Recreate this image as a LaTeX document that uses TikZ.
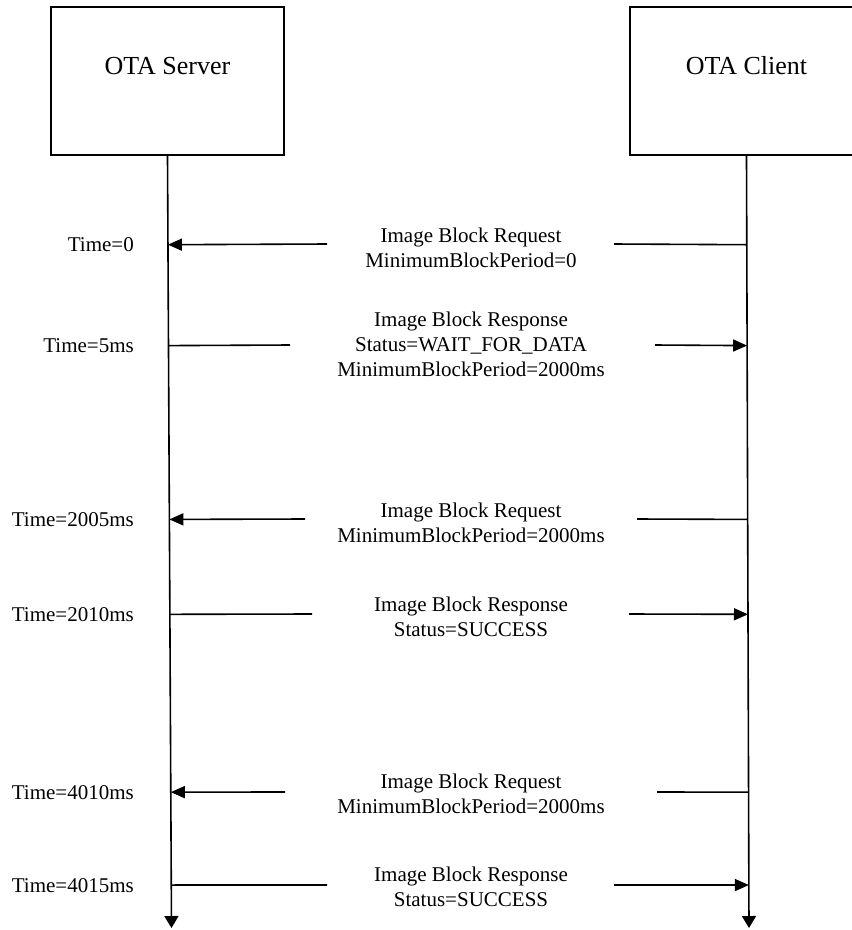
\documentclass[tikz,border=0pt]{standalone}
\usepackage{fontspec}
\setmainfont{Liberation Serif}
\usetikzlibrary{arrows.meta,calc}

\begin{document}
\begin{tikzpicture}[x=1pt,y=-1pt,
	>={Triangle[length=14pt,width=12pt]},
	party/.style={draw, line width=1.6pt, minimum width=233pt, minimum height=148pt,
		inner sep=0pt, text height=20pt, text depth=34pt, font=\fontsize{26}{31}\selectfont},
	life/.style={line width=1.6pt, -{Triangle[length=12pt,width=14pt]}},
	msg/.style={line width=1.6pt},
	lbl/.style={align=center, anchor=base, inner sep=0pt, font=\fontsize{21}{25}\selectfont},
	when/.style={anchor=base east, inner sep=0pt, font=\fontsize{21}{25}\selectfont}]

\useasboundingbox (0,0) rectangle (852,930);

% Participants
\node[party] (sv) at (167.5,81) {OTA Server};
\node[party] (cl) at (746.5,81) {OTA Client};

\coordinate (svEnd) at (171.5,928);
\coordinate (clEnd) at (749,928);
\draw[life] (sv.south) -- (svEnd);
\draw[life] (cl.south) -- (clEnd);

% Requests (client -> server)
\foreach \y/\a/\b/\when/\ly/\txt [count=\i] in {
	244/327/614/Time=0/267/{Image Block Request\\MinimumBlockPeriod=0},
	519/305/637/Time=2005ms/542/{Image Block Request\\MinimumBlockPeriod=2000ms},
	792/285/657/Time=4010ms/813/{Image Block Request\\MinimumBlockPeriod=2000ms}}
{
	\pgfmathsetmacro\pos{(\y-155)/773}
	\coordinate (rqs\i) at ($(sv.south)!\pos!(svEnd)$);
	\coordinate (rqc\i) at ($(cl.south)!\pos!(clEnd)$);
	\coordinate (rqa\i) at (\a,\y);
	\coordinate (rqb\i) at (\b,\y);
	\draw[msg,->] (rqa\i) -- (rqs\i);
	\draw[msg] (rqc\i) -- (rqb\i);
	\node[lbl] (rql\i) at (471,\ly) {\txt};
	\node[when] (rqt\i) at (134,\y+7) {\when};
}

% Responses (server -> client)
\foreach \y/\a/\b/\when/\ly/\txt [count=\i] in {
	345/290/655/Time=5ms/376/{Image Block Response\\Status=WAIT\_FOR\_DATA\\MinimumBlockPeriod=2000ms},
	614/312/629/Time=2010ms/636/{Image Block Response\\Status=SUCCESS},
	885/327/614/Time=4015ms/906/{Image Block Response\\Status=SUCCESS}}
{
	\pgfmathsetmacro\pos{(\y-155)/773}
	\coordinate (rss\i) at ($(sv.south)!\pos!(svEnd)$);
	\coordinate (rsc\i) at ($(cl.south)!\pos!(clEnd)$);
	\coordinate (rsa\i) at (\a,\y);
	\coordinate (rsb\i) at (\b,\y);
	\draw[msg] (rss\i) -- (rsa\i);
	\draw[msg,->] (rsb\i) -- (rsc\i);
	\node[lbl] (rsl\i) at (471,\ly) {\txt};
	\node[when] (rst\i) at (134,\y+7) {\when};
}
\end{tikzpicture}
\end{document}
